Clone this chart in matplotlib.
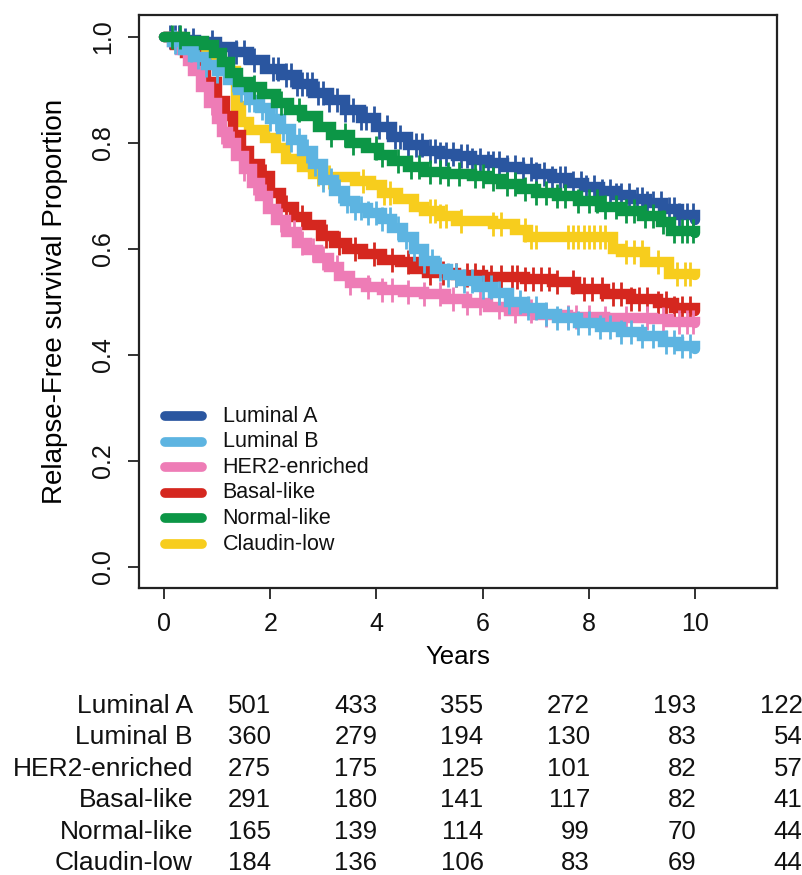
import numpy as np
import matplotlib
matplotlib.use("Agg")
import matplotlib.pyplot as plt

plt.rcParams['font.family'] = ['Liberation Sans', 'DejaVu Sans']

# Groups, colours and numbers at risk (years 0, 2, 4, 6, 8, 10)
groups = ['Luminal A', 'Luminal B', 'HER2-enriched', 'Basal-like', 'Normal-like', 'Claudin-low']
colors = ['#2a56a0', '#5db4e1', '#ee7cb6', '#d5271f', '#0c9646', '#f7cd1d']
at_risk = [
    [501, 433, 355, 272, 193, 122],
    [360, 279, 194, 130, 83, 54],
    [275, 175, 125, 101, 82, 57],
    [291, 180, 141, 117, 82, 41],
    [165, 139, 114, 99, 70, 44],
    [184, 136, 106, 83, 69, 44],
]

# Kaplan-Meier step knots (time in years, survival)
lumA_t = [0, 0.3, 0.6, 1.0, 1.3, 1.6, 1.9, 2.2, 2.5, 2.8, 3.1, 3.4, 3.7, 4.0, 4.3, 4.6, 4.9,
          5.2, 5.5, 5.8, 6.1, 6.4, 6.7, 7.0, 7.3, 7.6, 7.9, 8.2, 8.5, 8.8, 9.1, 9.4, 9.7, 10.0]
lumA_s = [1.0, 0.995, 0.99, 0.982, 0.972, 0.957, 0.94, 0.928, 0.912, 0.895, 0.882, 0.862, 0.848,
          0.83, 0.812, 0.797, 0.785, 0.779, 0.776, 0.768, 0.762, 0.755, 0.75, 0.742, 0.734, 0.725,
          0.717, 0.709, 0.702, 0.695, 0.687, 0.675, 0.664, 0.655]
lumB_t = [0, 0.15, 0.35, 0.55, 0.8, 1.0, 1.2, 1.4, 1.6, 1.8, 2.0, 2.2, 2.4, 2.6, 2.8, 3.0, 3.2,
          3.4, 3.6, 3.85, 4.1, 4.3, 4.5, 4.7, 4.9, 5.1, 5.35, 5.6, 5.9, 6.2, 6.5, 6.8, 7.1, 7.4,
          7.8, 8.2, 8.6, 9.0, 9.4, 9.7, 10.0]
lumB_s = [1.0, 0.99, 0.975, 0.962, 0.948, 0.935, 0.918, 0.9, 0.882, 0.866, 0.845, 0.826, 0.805,
          0.785, 0.76, 0.73, 0.71, 0.69, 0.678, 0.668, 0.656, 0.64, 0.622, 0.6, 0.578, 0.562,
          0.55, 0.54, 0.528, 0.516, 0.5, 0.488, 0.478, 0.47, 0.46, 0.452, 0.443, 0.436, 0.425,
          0.417, 0.412]
her2_t = [0, 0.15, 0.3, 0.45, 0.55, 0.7, 0.85, 1.0, 1.1, 1.2, 1.35, 1.5, 1.65, 1.8, 1.95, 2.1,
          2.3, 2.5, 2.7, 2.9, 3.1, 3.3, 3.5, 3.8, 4.1, 4.5, 4.9, 5.3, 5.7, 6.1, 6.5, 7.0, 7.6,
          8.3, 9.2, 9.5, 10.0]
her2_s = [1.0, 0.99, 0.975, 0.955, 0.935, 0.905, 0.875, 0.845, 0.82, 0.8, 0.775, 0.75, 0.725,
          0.7, 0.675, 0.655, 0.632, 0.612, 0.598, 0.582, 0.566, 0.548, 0.536, 0.528, 0.522,
          0.518, 0.514, 0.506, 0.498, 0.49, 0.482, 0.476, 0.472, 0.47, 0.468, 0.462, 0.46]
basal_t = [0, 0.2, 0.4, 0.6, 0.8, 1.0, 1.15, 1.3, 1.45, 1.6, 1.8, 2.0, 2.2, 2.45, 2.7, 2.95,
           3.2, 3.45, 3.75, 4.1, 4.45, 4.7, 4.95, 5.5, 6.0, 6.8, 7.3, 7.75, 8.3, 8.8, 9.3, 9.6, 10.0]
basal_s = [1.0, 0.985, 0.97, 0.95, 0.915, 0.88, 0.85, 0.815, 0.785, 0.76, 0.737, 0.705, 0.68,
           0.66, 0.645, 0.625, 0.612, 0.6, 0.59, 0.58, 0.575, 0.562, 0.555, 0.55, 0.547, 0.543,
           0.537, 0.525, 0.515, 0.505, 0.498, 0.488, 0.483]
normal_t = [0, 0.4, 0.75, 0.95, 1.1, 1.25, 1.4, 1.6, 1.85, 2.1, 2.35, 2.6, 2.9, 3.15, 3.5, 3.8,
            4.05, 4.3, 4.6, 4.9, 5.3, 5.8, 6.1, 6.35, 6.7, 7.0, 7.4, 7.8, 8.2, 8.6, 9.0, 9.35,
            9.55, 10.0]
normal_s = [1.0, 0.993, 0.985, 0.97, 0.952, 0.932, 0.915, 0.905, 0.893, 0.875, 0.862, 0.85,
            0.83, 0.815, 0.8, 0.79, 0.778, 0.766, 0.754, 0.746, 0.741, 0.737, 0.732, 0.722,
            0.714, 0.706, 0.7, 0.69, 0.68, 0.672, 0.662, 0.65, 0.634, 0.63]
claudin_t = [0, 0.3, 0.6, 0.9, 1.1, 1.35, 1.45, 1.6, 1.9, 2.1, 2.3, 2.6, 2.8, 3.0, 3.6, 3.9,
             4.1, 4.4, 4.7, 4.9, 5.2, 5.5, 6.2, 6.6, 6.85, 8.45, 8.6, 9.05, 9.5, 10.0]
claudin_s = [1.0, 0.99, 0.975, 0.955, 0.935, 0.87, 0.84, 0.825, 0.81, 0.79, 0.77, 0.755, 0.742,
             0.735, 0.728, 0.72, 0.705, 0.695, 0.68, 0.672, 0.662, 0.652, 0.647, 0.636, 0.623,
             0.6, 0.594, 0.575, 0.552, 0.55]

# Censoring times (tick marks)
lumA_c = [0.12, 0.2, 0.28, 0.4, 0.55, 0.9, 1.35, 1.5, 1.7, 2.05, 2.15, 2.3, 2.4, 2.5, 2.6, 2.7,
          2.78, 2.9, 3.0, 3.1, 3.25, 3.4, 3.55, 3.7, 3.8, 3.95, 4.05, 4.2, 4.35, 4.45, 4.6, 4.75,
          4.85, 5.0, 5.1, 5.2, 5.3, 5.45, 5.6, 5.7, 5.8, 5.95, 6.1, 6.2, 6.3, 6.45, 6.6, 6.75,
          6.9, 7.0, 7.15, 7.3, 7.45, 7.55, 7.7, 7.85, 7.95, 8.1, 8.25, 8.4, 8.5, 8.6, 8.75, 8.9,
          9.0, 9.1, 9.2, 9.35, 9.5, 9.6, 9.7, 9.85, 9.95]
lumB_c = [0.2, 0.3, 0.5, 0.65, 0.8, 1.0, 1.15, 1.3, 1.45, 1.6, 1.7, 1.85, 2.0, 2.1, 2.25, 2.4,
          2.55, 2.7, 2.85, 3.0, 3.15, 3.3, 3.45, 3.6, 3.7, 3.85, 4.0, 4.1, 4.25, 4.4, 4.55, 4.7,
          4.9, 5.05, 5.2, 5.35, 5.5, 5.65, 5.8, 6.0, 6.15, 6.3, 6.5, 6.7, 6.85, 7.0, 7.2, 7.4,
          7.6, 7.8, 8.0, 8.2, 8.4, 8.6, 8.8, 9.0, 9.2, 9.45, 9.6, 9.75, 9.9]
her2_c = [0.9, 1.1, 1.3, 1.5, 1.7, 1.9, 2.2, 2.45, 2.6, 2.8, 3.0, 3.25, 3.5, 3.85, 4.1, 4.3,
          4.6, 4.9, 5.2, 5.45, 5.7, 5.95, 6.3, 6.6, 6.9, 7.2, 7.6, 7.75, 8.0, 8.3, 8.7, 9.1, 9.4,
          9.7, 9.85, 9.95]
basal_c = [0.45, 1.05, 1.9, 2.3, 2.6, 3.05, 3.3, 3.6, 3.95, 4.3, 4.6, 5.0, 5.25, 5.5, 5.7,
           5.85, 6.0, 6.15, 6.35, 6.55, 6.65, 6.8, 6.95, 7.1, 7.25, 7.4, 7.7, 7.9, 8.05, 8.25,
           8.45, 8.6, 8.8, 8.95, 9.1, 9.3, 9.45, 9.6, 9.75, 9.9]
normal_c = [0.15, 0.3, 1.7, 2.2, 2.55, 3.15, 3.4, 3.55, 4.0, 4.1, 4.4, 4.65, 4.8, 5.0, 5.2,
            5.35, 5.55, 5.85, 6.0, 6.2, 6.45, 6.6, 6.8, 7.0, 7.2, 7.4, 7.55, 7.8, 8.0, 8.15,
            8.3, 8.5, 8.7, 8.85, 9.05, 9.2, 9.4, 9.6, 9.75, 9.85, 9.95]
claudin_c = [2.9, 3.0, 3.1, 3.75, 4.15, 4.25, 5.0, 5.1, 5.2, 5.3, 5.6, 6.2, 6.35, 6.8, 6.9, 7.0,
             7.6, 7.7, 7.8, 7.9, 8.0, 8.1, 8.2, 8.3, 8.7, 8.85, 9.0, 9.3, 9.65, 9.8, 9.9]

curves = [
    (lumA_t, lumA_s, lumA_c),
    (lumB_t, lumB_s, lumB_c),
    (her2_t, her2_s, her2_c),
    (basal_t, basal_s, basal_c),
    (normal_t, normal_s, normal_c),
    (claudin_t, claudin_s, claudin_c),
]
zorders = [3, 7, 6, 5, 8, 4]

fig = plt.figure(figsize=(8.03, 8.75), dpi=100)
ax = fig.add_axes([139 / 803, 1 - 588 / 875, 638 / 803, 573.5 / 875])

for (t, s, c), col, z in zip(curves, colors, zorders):
    t = np.array(t)
    s = np.array(s)
    ax.plot(t, s, drawstyle='steps-post', color=col, lw=7.5,
            solid_capstyle='round', solid_joinstyle='miter', zorder=z)
    c = np.array(c)
    cs = s[np.searchsorted(t, c, side='right') - 1]
    ax.plot(c, cs, ls='none', marker='|', ms=17, mew=2.0, color=col, zorder=z)

ax.set_xlim(-0.47, 11.54)
ax.set_ylim(-0.04, 1.0425)
ax.set_xticks([0, 2, 4, 6, 8, 10])
ax.set_yticks([0.0, 0.2, 0.4, 0.6, 0.8, 1.0])
ax.set_yticklabels(['0.0', '0.2', '0.4', '0.6', '0.8', '1.0'])
ax.tick_params(axis='both', direction='out', length=8, width=1.3, labelsize=18,
               color='#222222', labelcolor='#111111')
ax.tick_params(axis='x', pad=9)
ax.tick_params(axis='y', pad=9, labelrotation=90)
for lab in ax.get_yticklabels():
    lab.set_va('center')
for sp in ax.spines.values():
    sp.set_linewidth(1.6)
    sp.set_color('#222222')

ax.set_xlabel('Years', fontsize=18.5, va='center')
ax.xaxis.set_label_coords(0.5, -(657 - 588) / 573.5)
ax.set_ylabel('Relapse-Free survival Proportion', fontsize=20, va='center')
ax.yaxis.set_label_coords(-(139 - 55) / 638, 0.5)

# legend
for i, (g, col) in enumerate(zip(groups, colors)):
    yy = (588 - (416 + i * 25.6)) / 573.5
    ax.plot([0.041, 0.099], [yy, yy], transform=ax.transAxes, color=col, lw=7,
            solid_capstyle='round', clip_on=False)
    ax.text(0.131, yy, g, transform=ax.transAxes, fontsize=15.5, va='center', ha='left',
            color='#111111')

# number at risk table
for i, (g, row) in enumerate(zip(groups, at_risk)):
    yy = 1 - (706 + i * 31.4) / 875
    fig.text(193 / 803, yy, g, fontsize=19, ha='right', va='center', color='#111111')
    for j, n in enumerate(row):
        fig.text((271 + j * 106.3) / 803, yy, str(n), fontsize=18.5, ha='right', va='center',
                 color='#111111')

fig.savefig('out.png', dpi=100)
